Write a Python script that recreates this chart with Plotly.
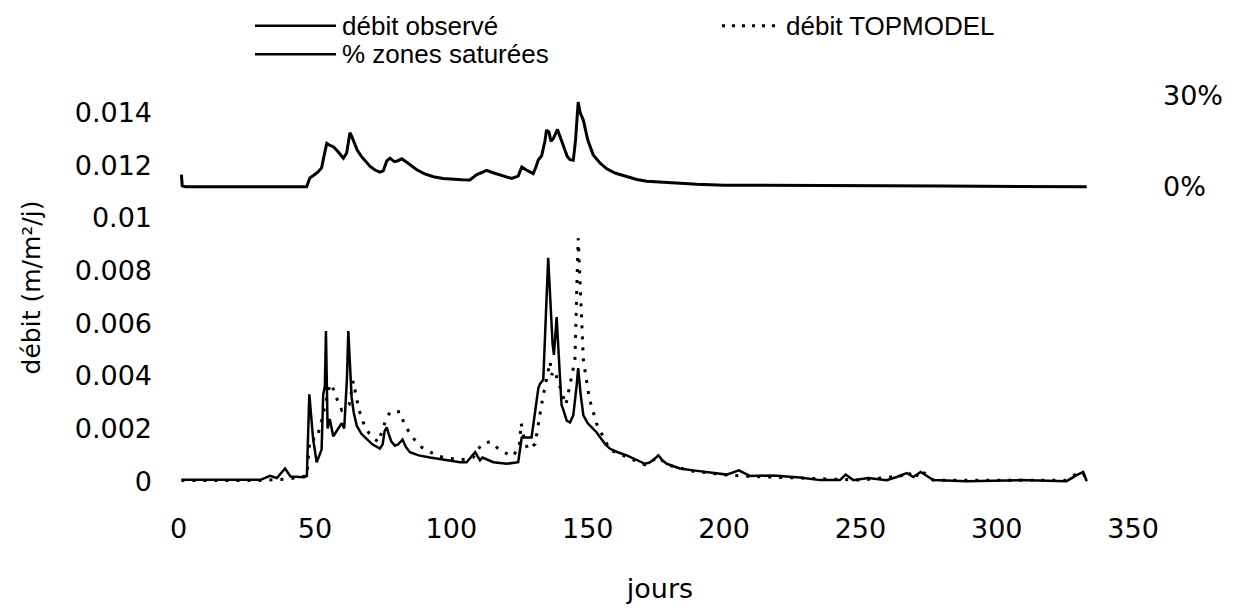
import plotly.graph_objects as go

# ---- data ----
obs_days = [1, 10, 20, 30, 33.5, 36, 39, 41, 46, 47, 47.9, 49.3, 50.6, 52.4, 53.0, 53.6, 54.0, 54.6, 55.4,
            56.7, 58.5, 59.8, 60.7, 61.7, 62.2, 62.8, 63.4, 64.2, 65.3, 67, 68.9, 71, 73.8, 74.8, 75.5, 76.3,
            77, 78, 79.3, 80.5, 82.1, 83.3, 84.8, 88, 92.2, 95, 98.3, 103.2, 105.6, 108.7, 110.5, 111.4,
            115.4, 120.3, 124.5, 125.8, 129.4, 130.5, 131.9, 132.5, 133.7, 135.5, 137.1, 137.6, 138.6,
            139.8, 140.4, 141.0, 142.3, 143.5, 144.7, 145.9, 146.5, 147.4, 148.4, 150, 151.7, 153.3, 155,
            156.5, 158.2, 161, 164.3, 166, 168, 171, 172.5, 174, 175.9, 177.3, 179, 181, 183.8, 188.7, 195,
            201, 205.4, 209.5, 218, 227.8, 235.2, 242.5, 244.6, 247.4, 252.9, 259.6, 263.3, 267, 269.4,
            272.1, 276.7, 289, 308.5, 325.6, 329.3, 331.7, 333]
obs_vals = [0.00005, 0.00005, 0.00005, 0.00005, 0.0002, 0.00012, 0.00048, 0.00018, 0.00015, 0.0002, 0.0033,
            0.0016, 0.00072, 0.0012, 0.0033, 0.0036, 0.0057, 0.002, 0.00236,
            0.0017, 0.002, 0.0022, 0.002, 0.0039, 0.0057, 0.0045, 0.0032, 0.0026, 0.0021, 0.0018, 0.0016,
            0.0014, 0.00124, 0.0014, 0.0019, 0.00204,
            0.0018, 0.0015, 0.00135, 0.0014, 0.00158, 0.0013, 0.0011, 0.00098, 0.0009, 0.00085, 0.00079,
            0.00072, 0.00072, 0.0011, 0.00079, 0.0009,
            0.00072, 0.00066, 0.00072, 0.00166, 0.00166, 0.0025, 0.00354, 0.0037, 0.00385, 0.00848, 0.00523,
            0.0048, 0.00623,
            0.00398, 0.0029, 0.00273, 0.0023, 0.00223, 0.0025, 0.0036, 0.00429, 0.0033, 0.0025, 0.0022,
            0.002, 0.00185, 0.0016,
            0.0014, 0.00123, 0.0011, 0.00098, 0.0009, 0.0008, 0.00066, 0.0007, 0.0008, 0.00098, 0.0008,
            0.00066, 0.00058, 0.00048, 0.00041, 0.00033,
            0.00025, 0.00041, 0.0002, 0.00022, 0.00014, 0.00004, 0.00004, 0.00025, 0.00004, 0.00012,
            0.00004, 0.00016, 0.00031, 0.00016,
            0.00035, 0.00004, 0.0, 0.00004, 0.0, 0.00023, 0.00035, 0.0]

top_days = [1, 10, 20, 30, 40, 47, 48.1, 50.6, 52.4, 55.5, 56.7, 57.7, 59.8, 62.5, 64.0, 65.0, 66.0, 67.6,
            69.9, 73.2, 75.7, 77.5, 81.2, 82.6, 85.4, 89.1, 95, 103, 108, 111.1, 114.2, 118.4, 122.7,
            124.9, 125.6, 126.5, 128, 130.7, 133.5, 136.2, 136.8, 137.8, 140.4, 142.0, 145.3, 146.5,
            148.4, 150.6, 153.3, 158.2, 164.3, 171, 175.9, 179, 188.7, 201, 210, 230, 250, 265, 267,
            270, 272, 276.7, 300, 325, 329.3, 331.7, 333]
top_vals = [0.00003, 0.00003, 0.00003, 0.00003, 0.00008, 0.0002, 0.0016, 0.0016, 0.0023, 0.0037, 0.0035,
            0.0032, 0.0027, 0.0029, 0.0038, 0.0032, 0.00275, 0.00225,
            0.0018, 0.00148, 0.00225, 0.00264, 0.00264, 0.0022, 0.0017, 0.00129, 0.00095, 0.0008,
            0.0009, 0.00141, 0.0015, 0.00113, 0.00095,
            0.00135, 0.0022, 0.0017, 0.0012, 0.00141, 0.00316, 0.00454, 0.00404, 0.0042, 0.00335,
            0.0029, 0.0046, 0.00923,
            0.0046, 0.00313, 0.00217, 0.00118, 0.00092, 0.00062, 0.00092, 0.00062, 0.00038, 0.00023,
            0.00018, 0.0001, 0.00004, 0.0002, 0.00038,
            0.0001, 0.00042, 0.00004, 0.00003, 0.00003, 0.00028, 0.0003, 0.0]

sat_days = [1, 1.3, 2.5, 20, 46.9, 48.1, 48.8, 49.4, 51, 52.4, 53.5, 54.3, 55.5, 56.7, 58, 59.5, 60.4,
            61.6, 62.8, 63.5, 64.5, 65.5, 67, 68.5, 70.2, 72, 73.8, 75, 76.3, 77.5, 79, 79.9, 81.8, 84,
            87.3, 90, 93.4, 97, 100.7, 104, 106.8, 108, 109.3, 111, 112.9, 115, 119, 122.1, 124.5, 125.8,
            127.5, 130, 131.0, 131.9, 133.1, 134.3, 134.9, 135.8, 136.5, 137.4, 138.9, 140, 141.1, 142.5,
            143.5, 144.7, 145.5, 146.5, 147.2, 148.4, 150, 152, 154.5, 157, 160, 164.3, 168, 171.6,
            179.5, 190, 200, 232, 280, 333]
sat_vals = [4.0, 0.3, 0.0, 0.0, 0.0, 2.9, 3.5, 3.7, 4.8, 6.2, 11.0, 14.3, 13.6, 13.2, 12.0, 10.3, 9.4,
            11.1, 17.8, 16.5, 14.3, 12.0, 10.0, 8.5, 6.7, 5.5, 4.8, 5.2, 8.5, 9.4, 8.3, 8.4, 9.2, 7.8,
            5.6, 4.3, 3.3, 2.7, 2.4, 2.3, 2.2, 3.0, 4.0, 4.6, 5.4, 4.7, 3.5, 2.7, 3.5, 6.5,
            5.5, 4.3, 6.5, 8.9, 10.2, 15.0, 18.7, 18.0, 15.0, 15.9, 18.9, 16.0, 13.2, 10.0,
            8.9, 8.7, 15.0, 27.9, 24.5, 21.9, 15.5, 10.5, 7.8, 5.9, 4.5, 3.3, 2.4, 1.8,
            1.3, 0.8, 0.5, 0.3, 0.2, 0.0]

x_ticks = [0, 50, 100, 150, 200, 250, 300, 350]
y_ticks = [0, 0.002, 0.004, 0.006, 0.008, 0.01, 0.012, 0.014]
y_ticktext = ["0", "0.002", "0.004", "0.006", "0.008", "0.01", "0.012", "0.014"]
y2_ticks = [0, 30]
y2_ticktext = ["0%", "30%"]

TICK_FONT = "DejaVu Sans, Liberation Sans, Arial, sans-serif"
LEG_FONT = "Liberation Sans Narrow, Arial Narrow, Liberation Sans, Arial, sans-serif"

# plot area in pixels
L, R, T, B = 170, 1150, 80, 500
W, H = 1236, 611


def px(xp):
    return (xp - L) / (R - L)


def py(yp):
    return (B - yp) / (B - T)


fig = go.Figure()
fig.add_trace(go.Scatter(x=obs_days, y=obs_vals, mode="lines", name="débit observé",
                         line=dict(color="black", width=2.5), showlegend=False))
fig.add_trace(go.Scatter(x=top_days, y=top_vals, mode="lines", name="débit TOPMODEL",
                         line=dict(color="black", width=3, dash="3px,8px"), showlegend=False))
fig.add_trace(go.Scatter(x=sat_days, y=sat_vals, mode="lines", name="% zones saturées",
                         line=dict(color="black", width=3), yaxis="y2", showlegend=False))

# legend drawn as line samples + labels
legend_items = [
    ("débit observé", 255, 336, 25, "solid"),
    ("débit TOPMODEL", 722, 780, 25, "3px,7px"),
    ("% zones saturées", 255, 336, 54, "solid"),
]
shapes = []
annotations = []
for label, x0, x1, yy, dash in legend_items:
    shapes.append(dict(type="line", xref="paper", yref="paper", x0=px(x0), x1=px(x1), y0=py(yy), y1=py(yy),
                       line=dict(color="black", width=3 if dash != "solid" else 2.5, dash=dash)))
    annotations.append(dict(text=label, xref="paper", yref="paper", x=px(x1 + 4), y=py(yy),
                            xanchor="left", yanchor="middle", showarrow=False,
                            font=dict(family=LEG_FONT, size=26, color="black")))

fig.update_layout(
    width=W, height=H,
    margin=dict(l=L, r=W - R, t=T, b=H - B),
    paper_bgcolor="white", plot_bgcolor="white",
    font=dict(family=TICK_FONT, size=27, color="black"),
    showlegend=False,
    shapes=shapes,
    annotations=annotations,
    xaxis=dict(range=[-3.19, 356.2], tickvals=x_ticks, showgrid=False, zeroline=False,
               showline=False, ticks="", ticklabelstandoff=15,
               title=dict(text="jours", standoff=36, font=dict(size=27))),
    yaxis=dict(range=[-0.000525, 0.015238], tickvals=y_ticks, ticktext=y_ticktext,
               showgrid=False, zeroline=False, showline=False, ticks="", ticklabelstandoff=17,
               title=dict(text="débit (m/m²/j)", standoff=26, font=dict(size=25))),
    yaxis2=dict(range=[-101.7, 35.2], overlaying="y", side="right", tickvals=y2_ticks,
                ticktext=y2_ticktext, showgrid=False, zeroline=False, showline=False, ticks="",
                ticklabelstandoff=12),
)

fig.write_html("out.html")
